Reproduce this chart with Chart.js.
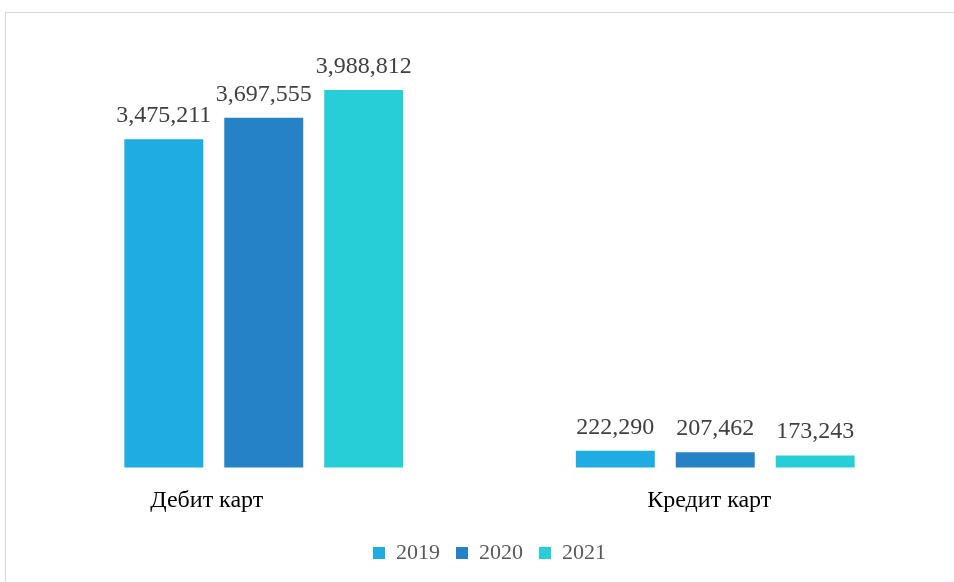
<!DOCTYPE html>
<html>
<head>
<meta charset="utf-8">
<script src="https://cdn.jsdelivr.net/npm/chart.js@4/dist/chart.umd.min.js"></script>
<style>
  html, body { margin: 0; background: #fff; overflow: hidden; }
  #frame { position: absolute; left: 5px; top: 12px; width: 1000px; height: 620px; border: 1px solid #d9d9d9; }
  #wrap { position: absolute; left: 0; top: 0; width: 954px; height: 582px; }
</style>
</head>
<body>
<div id="frame"></div>
<div id="wrap"><canvas id="myChart"></canvas></div>
<script>
// labels carry trailing spaces, as in the source sheet
var categories = ['Дебит карт' + '\u00A0'.repeat(19), 'Кредит карт' + '\u00A0'.repeat(2)];
var years = ['2019', '2020', '2021'];
var values2019 = [3475211, 222290];
var values2020 = [3697555, 207462];
var values2021 = [3988812, 173243];
var colors = ['rgb(30, 172, 227)', 'rgb(38, 130, 198)', 'rgb(40, 206, 215)'];

var serif = '"Liberation Serif", "Times New Roman", serif';

// value labels above each bar
var barLabels = {
  id: 'barLabels',
  afterDatasetsDraw: function(chart) {
    var c = chart.ctx;
    c.save();
    c.font = '24px ' + serif;
    c.fillStyle = '#404040';
    c.textAlign = 'center';
    c.textBaseline = 'alphabetic';
    chart.data.datasets.forEach(function(ds, i) {
      chart.getDatasetMeta(i).data.forEach(function(bar, j) {
        c.fillText(ds.data[j].toLocaleString('en-US'), bar.x, bar.y - 17);
      });
    });
    c.restore();
  }
};

var ctx = document.getElementById('myChart');
new Chart(ctx, {
  type: 'bar',
  data: {
    labels: categories,
    datasets: [
      { label: years[0], data: values2019, backgroundColor: colors[0] },
      { label: years[1], data: values2020, backgroundColor: colors[1] },
      { label: years[2], data: values2021, backgroundColor: colors[2] }
    ]
  },
  options: {
    responsive: true,
    maintainAspectRatio: false,
    animation: false,
    categoryPercentage: 0.664,
    barPercentage: 0.79,
    layout: { padding: { left: 38, right: 13, top: 41, bottom: 8 } },
    scales: {
      x: {
        grid: { display: false },
        border: { display: false },
        ticks: { color: '#000', font: { family: serif, size: 24, lineHeight: 1.354 }, padding: 9 }
      },
      y: {
        display: false,
        min: 47000,
        max: 4500000
      }
    },
    plugins: {
      legend: {
        position: 'bottom',
        labels: {
          color: '#595959',
          font: { family: serif, size: 22 },
          boxWidth: 12,
          boxHeight: 12,
          padding: 16
        }
      },
      tooltip: { enabled: false }
    }
  },
  plugins: [barLabels]
});
</script>
</body>
</html>
